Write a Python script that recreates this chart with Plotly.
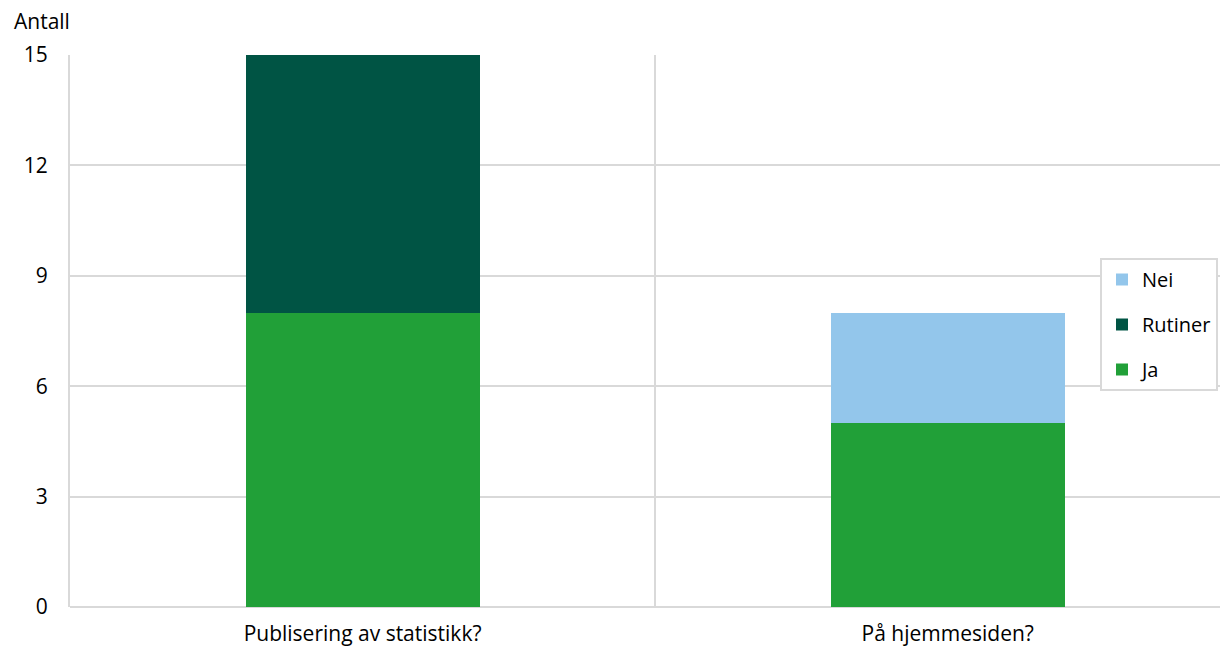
import plotly.graph_objects as go

categories = ["Publisering av statistikk?", "På hjemmesiden?"]
ja = [8, 5]
rutiner = [7, 0]
nei = [0, 3]
y_ticks = [0, 3, 6, 9, 12, 15]

FONT = "Open Sans"
FS = 21
x = list(range(len(categories)))

fig = go.Figure()
for vals, name, col, grp, rank in [(ja, "Ja", "#21a038", "ja", 3),
                                   (rutiner, "Rutiner", "#005444", "rut", 2),
                                   (nei, "Nei", "#93c6eb", "nei", 1)]:
    fig.add_bar(x=x, y=vals, name=name, marker_color=col, marker_line_width=0,
                width=0.4, legendgroup=grp, legendrank=rank)

# page has an 8px body margin: figure is offset by 8px
W, H = 1220, 645
fig.update_layout(
    barmode="stack",
    width=W, height=H,
    margin=dict(l=62, r=0, t=47, b=46),
    plot_bgcolor="white", paper_bgcolor="white",
    font=dict(family=FONT, size=FS, color="#000000"),
    showlegend=True,
    legend=dict(
        x=(1100 - 70) / 1158, y=(607 - 258) / 552, xanchor="left", yanchor="top",
        traceorder="grouped", tracegroupgap=16,
        bordercolor="#d9d9d9", borderwidth=2, bgcolor="white",
        font=dict(family=FONT, size=20),
        itemwidth=30,
    ),
    xaxis=dict(
        range=[-0.5, 1.479],
        tickvals=x, ticktext=categories,
        showgrid=False, zeroline=False,
        ticks="outside", ticklen=8, tickcolor="rgba(0,0,0,0)",
        minor=dict(tickvals=[-0.5, 0.5, 1.5], showgrid=True, gridcolor="#d9d9d9", gridwidth=2, ticks=""),
        showline=False,
    ),
    yaxis=dict(
        range=[0, 15],
        tickvals=y_ticks,
        showgrid=True, gridcolor="#d9d9d9", gridwidth=2,
        zeroline=True, zerolinecolor="#d9d9d9", zerolinewidth=2,
        showline=True, linecolor="#d9d9d9", linewidth=2,
        ticks="outside", ticklen=16, tickcolor="rgba(0,0,0,0)",
    ),
    annotations=[dict(text="Antall", xref="paper", yref="paper", x=-58 / 1158, y=1.0, yshift=18,
                      xanchor="left", yanchor="bottom", showarrow=False,
                      font=dict(family=FONT, size=FS))],
)

fig.write_html("out.html")
